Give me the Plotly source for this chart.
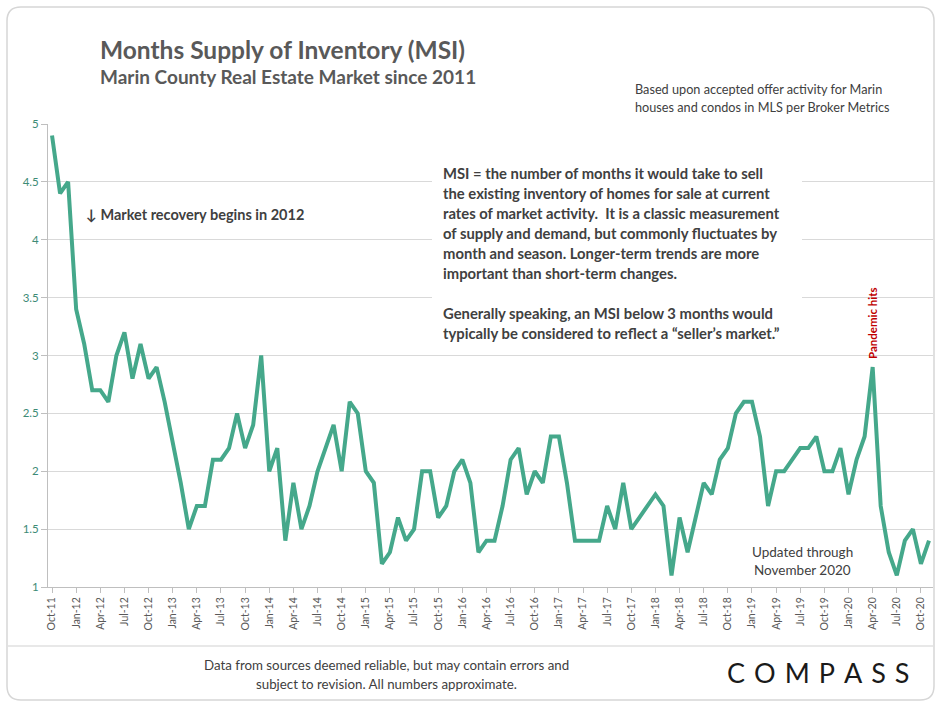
import plotly.graph_objects as go

# ---------------- data ----------------
tick_labels = ["Oct-11", "Jan-12", "Apr-12", "Jul-12", "Oct-12", "Jan-13", "Apr-13", "Jul-13",
               "Oct-13", "Jan-14", "Apr-14", "Jul-14", "Oct-14", "Jan-15", "Apr-15", "Jul-15",
               "Oct-15", "Jan-16", "Apr-16", "Jul-16", "Oct-16", "Jan-17", "Apr-17", "Jul-17",
               "Oct-17", "Jan-18", "Apr-18", "Jul-18", "Oct-18", "Jan-19", "Apr-19", "Jul-19",
               "Oct-19", "Jan-20", "Apr-20", "Jul-20", "Oct-20"]

msi_2011 = [4.9, 4.4, 4.5]                                                   # Oct-Dec 2011
msi_2012 = [3.4, 3.1, 2.7, 2.7, 2.6, 3.0, 3.2, 2.8, 3.1, 2.8, 2.9, 2.6]
msi_2013 = [2.25, 1.9, 1.5, 1.7, 1.7, 2.1, 2.1, 2.2, 2.5, 2.2, 2.4, 3.0]
msi_2014 = [2.0, 2.2, 1.4, 1.9, 1.5, 1.7, 2.0, 2.2, 2.4, 2.0, 2.6, 2.5]
msi_2015 = [2.0, 1.9, 1.2, 1.3, 1.6, 1.4, 1.5, 2.0, 2.0, 1.6, 1.7, 2.0]
msi_2016 = [2.1, 1.9, 1.3, 1.4, 1.4, 1.7, 2.1, 2.2, 1.8, 2.0, 1.9, 2.3]
msi_2017 = [2.3, 1.9, 1.4, 1.4, 1.4, 1.4, 1.7, 1.5, 1.9, 1.5, 1.6, 1.7]
msi_2018 = [1.8, 1.7, 1.1, 1.6, 1.3, 1.6, 1.9, 1.8, 2.1, 2.2, 2.5, 2.6]
msi_2019 = [2.6, 2.3, 1.7, 2.0, 2.0, 2.1, 2.2, 2.2, 2.3, 2.0, 2.0, 2.2]
msi_2020 = [1.8, 2.1, 2.3, 2.9, 1.7, 1.3, 1.1, 1.4, 1.5, 1.2, 1.4]           # Jan-Nov 2020

msi = (msi_2011 + msi_2012 + msi_2013 + msi_2014 + msi_2015 + msi_2016 +
       msi_2017 + msi_2018 + msi_2019 + msi_2020)

y_ticks = [1, 1.5, 2, 2.5, 3, 3.5, 4, 4.5, 5]
y_tick_text = ["1", "1.5", "2", "2.5", "3", "3.5", "4", "4.5", "5"]

# ---------------- layout helpers ----------------
W, H = 940, 707
L, R, T, B = 48, 933, 124, 587


def px(x):
    return (x - L) / (R - L)


def py(y):
    return (B - y) / (B - T)


FONT = "Lato, 'Open Sans', sans-serif"
NARROW = "'Liberation Sans Narrow', 'Arial Narrow', Lato, sans-serif"
TEXT_GREY = "#404040"
LINE_COLOR = "#45a88b"

x_idx = list(range(len(msi)))
tick_idx = list(range(0, len(msi), 3))[:len(tick_labels)]

fig = go.Figure()
fig.add_trace(go.Scatter(
    x=x_idx, y=msi, mode="lines",
    line=dict(color=LINE_COLOR, width=4),
    hoverinfo="y", showlegend=False,
))

shapes = []
# card border with rounded corners
cx0, cy0, cx1, cy1, r = 7, 7, 934, 700, 14
path = (f"M {px(cx0 + r)} {py(cy0)} L {px(cx1 - r)} {py(cy0)} "
        f"Q {px(cx1)} {py(cy0)} {px(cx1)} {py(cy0 + r)} "
        f"L {px(cx1)} {py(cy1 - r)} Q {px(cx1)} {py(cy1)} {px(cx1 - r)} {py(cy1)} "
        f"L {px(cx0 + r)} {py(cy1)} Q {px(cx0)} {py(cy1)} {px(cx0)} {py(cy1 - r)} "
        f"L {px(cx0)} {py(cy0 + r)} Q {px(cx0)} {py(cy0)} {px(cx0 + r)} {py(cy0)} Z")
shapes.append(dict(type="path", xref="paper", yref="paper", path=path,
                   line=dict(color="#d6d6d6", width=1.5), layer="below"))
# footer separator
shapes.append(dict(type="line", xref="paper", yref="paper",
                   x0=px(cx0), x1=px(cx1), y0=py(646), y1=py(646),
                   line=dict(color="#e0e0e0", width=1.5)))
# white text box hiding gridlines
shapes.append(dict(type="rect", xref="paper", yref="paper",
                   x0=px(432), x1=px(802), y0=py(158), y1=py(344),
                   fillcolor="white", line=dict(width=0), layer="above"))

annotations = []


def add_text(text, x, y, size, color=TEXT_GREY, xanchor="left", family=FONT, angle=0):
    annotations.append(dict(
        text=text, xref="paper", yref="paper", x=px(x), y=py(y),
        xanchor=xanchor, yanchor="middle", showarrow=False, textangle=angle,
        font=dict(family=family, size=size, color=color),
        align=xanchor if xanchor != "center" else "center",
    ))


add_text("<b>Months Supply of Inventory (MSI)</b>", 98, 49, 24.5, color="#595959")
add_text("<b>Marin County Real Estate Market since 2011</b>", 98, 76, 19, color="#595959")
add_text("Based upon accepted offer activity for Marin", 633, 89, 12.7)
add_text("houses and condos in MLS per Broker Metrics", 633, 107, 12.7)

box_lines = [
    ("MSI = the number of months it would take to sell", 173),
    ("the existing inventory of homes for sale at current", 193),
    ("rates of market activity.  It is a classic measurement", 213),
    ("of supply and demand, but commonly fluctuates by", 233),
    ("month and season. Longer-term trends are more", 253),
    ("important than short-term changes.", 273),
    ("Generally speaking, an MSI below 3 months would", 313),
    ("typically be considered to reflect a \u201cseller\u2019s market.\u201d", 333),
]
for txt, yy in box_lines:
    add_text(f"<b>{txt}</b>", 441, yy, 14.8)

add_text("<b>\u2193 Market recovery begins in 2012</b>", 84, 214, 14.5)
add_text("<b>Pandemic hits</b>", 872, 323, 11.5, color="#c00000", xanchor="center", angle=-90)
add_text("Updated through", 802, 552, 13.5, xanchor="center")
add_text("November 2020", 802, 570, 13.5, xanchor="center")

add_text("Data from sources deemed reliable, but may contain errors and", 386, 665, 13.3, xanchor="center")
add_text("subject to revision. All numbers approximate.", 386, 684, 13.3, xanchor="center")
add_text("C\u2004O\u2004M\u2004P\u2004A\u2004S\u2004S", 818, 672, 27, color="#1a1a1a",
         xanchor="center", family="Lato, 'Open Sans', sans-serif")

fig.update_layout(
    width=W, height=H,
    margin=dict(l=L, r=W - R, t=T, b=H - B, pad=0),
    paper_bgcolor="white", plot_bgcolor="white",
    shapes=shapes, annotations=annotations,
    showlegend=False,
    xaxis=dict(
        range=[-0.5, len(msi) - 0.5],
        tickmode="array", tickvals=tick_idx, ticktext=tick_labels,
        tickangle=-90, ticks="outside", ticklen=5, tickcolor="#bfbfbf",
        showline=True, linecolor="#bfbfbf", linewidth=1,
        showgrid=False, zeroline=False,
        tickfont=dict(family=NARROW, size=10.5, color="#595959"),
    ),
    yaxis=dict(
        range=[1, 5], tickmode="array", tickvals=y_ticks, ticktext=y_tick_text,
        ticks="outside", ticklen=6, tickcolor="#bfbfbf",
        showline=True, linecolor="#bfbfbf", linewidth=1,
        showgrid=True, gridcolor="#d9d9d9", gridwidth=1, zeroline=False,
        tickfont=dict(family=FONT, size=11.5, color="#3d8b76"),
    ),
)

fig.write_html("out.html", config={"displayModeBar": False},
               post_script="document.body.style.margin='0';document.body.style.overflow='hidden';")
